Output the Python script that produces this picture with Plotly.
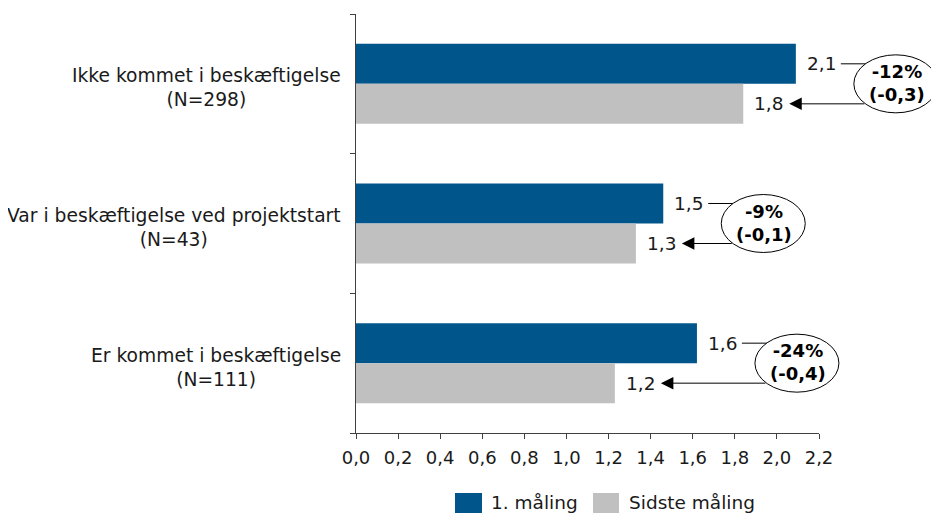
import plotly.graph_objects as go

# ---- data ----
categories = ["Ikke kommet i beskæftigelse", "Var i beskæftigelse ved projektstart", "Er kommet i beskæftigelse"]
n_labels = ["(N=298)", "(N=43)", "(N=111)"]
first_measure = [2.09, 1.46, 1.62]
last_measure = [1.84, 1.33, 1.23]
change_pct = ["-12%", "-9%", "-24%"]
change_abs = ["(-0,3)", "(-0,1)", "(-0,4)"]
series_names = ["1. måling", "Sidste måling"]
x_ticks = [0.0, 0.2, 0.4, 0.6, 0.8, 1.0, 1.2, 1.4, 1.6, 1.8, 2.0, 2.2]

# ---- style ----
BLUE = "#00558A"
GREY = "#C0C0C0"
FONT = "DejaVu Sans"
TXT = "#1a1a1a"
OFF = 8  # page body margin
W, H = 939 - OFF, 515 - OFF
ML, MR, MT, MB = 356 - OFF, 120, 14 - OFF, 82
XMAX = 2.2
BARGAP = 0.427
plot_w = W - ML - MR
plot_h = H - MT - MB
ppu = plot_w / XMAX
ncat = len(categories)
off = (1 - BARGAP) / 4  # bar centre offset from category centre (category units)


def fmt(v):
    return f"{v:.1f}".replace(".", ",")


def xpaper(v):
    return v / XMAX


def ypaper(c):
    # reversed category axis: range [ncat-0.5, -0.5]
    return 1 - (c + 0.5) / ncat


idx = list(range(ncat))

fig = go.Figure()
fig.add_trace(go.Bar(y=idx, x=first_measure, orientation="h", name=series_names[0],
                     marker=dict(color=BLUE, line=dict(width=0)), showlegend=False))
fig.add_trace(go.Bar(y=idx, x=last_measure, orientation="h", name=series_names[1],
                     marker=dict(color=GREY, line=dict(width=0)), showlegend=False))

ann = []
shapes = []
for i in idx:
    b, g = first_measure[i], last_measure[i]
    # category label
    ann.append(dict(xref="paper", yref="y", x=0, y=i, xshift=-13, yshift=-4,
                    xanchor="right", yanchor="middle", align="center", showarrow=False,
                    text=f"{categories[i]}<br>{n_labels[i]}",
                    font=dict(family=FONT, size=18.7, color=TXT)))
    # value labels
    ann.append(dict(xref="x", yref="y", x=b, y=i - off, xshift=9, xanchor="left",
                    yanchor="middle", showarrow=False, text=fmt(b),
                    font=dict(family=FONT, size=18.5, color=TXT)))
    ann.append(dict(xref="x", yref="y", x=g, y=i + off, xshift=9, xanchor="left",
                    yanchor="middle", showarrow=False, text=fmt(g),
                    font=dict(family=FONT, size=18.5, color=TXT)))
    # arrow from ellipse to last-measure label
    ann.append(dict(xref="x", yref="y", x=g, y=i + off, text="", showarrow=True,
                    axref="pixel", ayref="pixel", ax=(b - g) * ppu + 70, ay=0,
                    standoff=46, arrowhead=2, arrowsize=2.5, arrowwidth=1,
                    arrowcolor="#000000"))
    # connector line from first-measure label to ellipse
    shapes.append(dict(type="line", xref="paper", yref="paper", xsizemode="pixel",
                       xanchor=xpaper(b), x0=45, x1=72,
                       y0=ypaper(i - off), y1=ypaper(i - off),
                       line=dict(color="#000000", width=1)))
    # ellipse
    shapes.append(dict(type="circle", xref="paper", yref="paper", xsizemode="pixel",
                       xanchor=xpaper(b), x0=58, x1=142, ysizemode="pixel",
                       yanchor=ypaper(i), y0=-29, y1=29,
                       line=dict(color="#000000", width=1), fillcolor="white",
                       layer="above"))
    ann.append(dict(xref="x", yref="y", x=b, y=i, xshift=101, yshift=1,
                    xanchor="center", yanchor="middle", align="center", showarrow=False,
                    text=f"<b>{change_pct[i]}<br>{change_abs[i]}</b>",
                    font=dict(family=FONT, size=18, color="#000000")))

# custom legend (large swatches), page pixel positions converted to paper
def px_to_xpaper(px):
    return (px - OFF - ML) / plot_w


def py_to_ypaper(py):
    return (H - MB - (py - OFF)) / plot_h


leg_y = py_to_ypaper(503)
sw_half = 10 / plot_h
for name, col, x_sw0, x_sw1, x_txt in [(series_names[0], BLUE, 455, 482, 489),
                                         (series_names[1], GREY, 593, 619, 627)]:
    shapes.append(dict(type="rect", xref="paper", yref="paper",
                       x0=px_to_xpaper(x_sw0), x1=px_to_xpaper(x_sw1),
                       y0=leg_y - sw_half, y1=leg_y + sw_half,
                       line=dict(width=0), fillcolor=col))
    ann.append(dict(xref="paper", yref="paper", x=px_to_xpaper(x_txt), y=leg_y,
                    xanchor="left", yanchor="middle", showarrow=False, text=name,
                    font=dict(family=FONT, size=18.5, color=TXT)))

fig.update_layout(
    width=W, height=H, autosize=False,
    margin=dict(l=ML, r=MR, t=MT, b=MB, pad=0),
    paper_bgcolor="white", plot_bgcolor="white",
    barmode="group", bargap=BARGAP, bargroupgap=0,
    separators=", ",
    font=dict(family=FONT, size=18, color=TXT),
    annotations=ann, shapes=shapes, showlegend=False,
    xaxis=dict(range=[0, XMAX], tickmode="array", tickvals=x_ticks,
               ticktext=[fmt(v) for v in x_ticks],
               showgrid=False, zeroline=False, showline=True, linecolor="#404040",
               linewidth=1, ticks="outside", ticklen=5, tickcolor="#404040",
               ticklabelstandoff=3,
               tickfont=dict(family=FONT, size=18, color=TXT)),
    yaxis=dict(type="linear", range=[ncat - 0.5, -0.5], showgrid=False,
               zeroline=False, showline=True, linecolor="#404040", linewidth=1,
               tickmode="array", tickvals=[i - 0.5 for i in range(ncat + 1)],
               ticks="outside", ticklen=5, tickcolor="#404040", showticklabels=False),
)

fig.write_html("out.html")
